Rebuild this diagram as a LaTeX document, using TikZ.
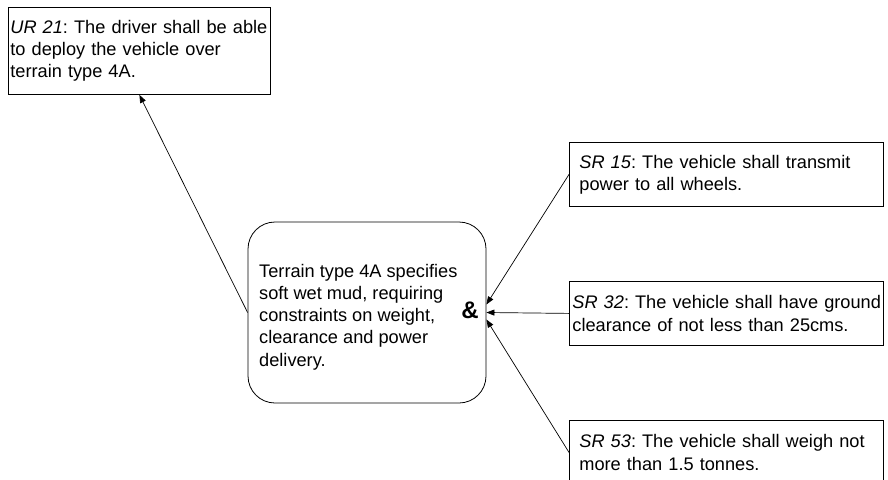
\documentclass[tikz,border=0pt]{standalone}
\usepackage{fontspec}
\setmainfont{Liberation Sans}
\frenchspacing
\usetikzlibrary{arrows.meta}
\begin{document}
\begin{tikzpicture}[x=1pt,y=-1pt,>={Triangle[length=8pt,width=6pt]},
  every node/.style={font=\fontsize{18.2}{22.2}\selectfont},
  reqbox/.style={draw,line width=0.8pt,anchor=north west,align=left,text width=294pt,inner xsep=10pt,inner ysep=0pt,minimum height=64pt},
  goalbox/.style={draw,line width=0.8pt,rounded corners=27pt,minimum width=238pt,minimum height=181pt},
  link/.style={->,line width=0.7pt}]
\useasboundingbox (0,0) rectangle (888,479);
\clip (0,0) rectangle (888,479);
\node[reqbox,text width=258pt,inner xsep=2pt,minimum height=87pt] (ur21) at (8,7) {\mbox{\textit{UR 21}: The driver shall be able}\\to deploy the vehicle over\\terrain type 4A.};
\node[goalbox] (goal) at (367,312.5) {};
\node[anchor=west,align=left,inner sep=0pt] (goaltext) at (259,317) {Terrain type 4A specifies\\soft wet mud, requiring\\constraints on weight,\\clearance and power\\delivery.};
\node[inner sep=0pt,font=\fontsize{24}{28}\selectfont\bfseries] (and) at (470,310) {\&};
\node[reqbox] (sr15) at (569,142) {\mbox{\textit{SR 15}: The vehicle shall transmit}\\power to all wheels.};
\node[reqbox,text width=308pt,inner xsep=3pt] (sr32) at (569,281) {\mbox{\textit{SR 32}: The vehicle shall have ground}\\clearance of not less than 25cms.};
\node[reqbox] (sr53) at (569,420) {\mbox{\textit{SR 53}: The vehicle shall weigh not}\\more than 1.5 tonnes.};
\draw[link] (goal.west) -- (ur21.south);
\draw[link] (sr15.west) -- ([yshift=8pt]goal.east);
\draw[link] (sr32.west) -- (goal.east);
\draw[link] (sr53.west) -- ([yshift=-7pt]goal.east);
\end{tikzpicture}
\end{document}
